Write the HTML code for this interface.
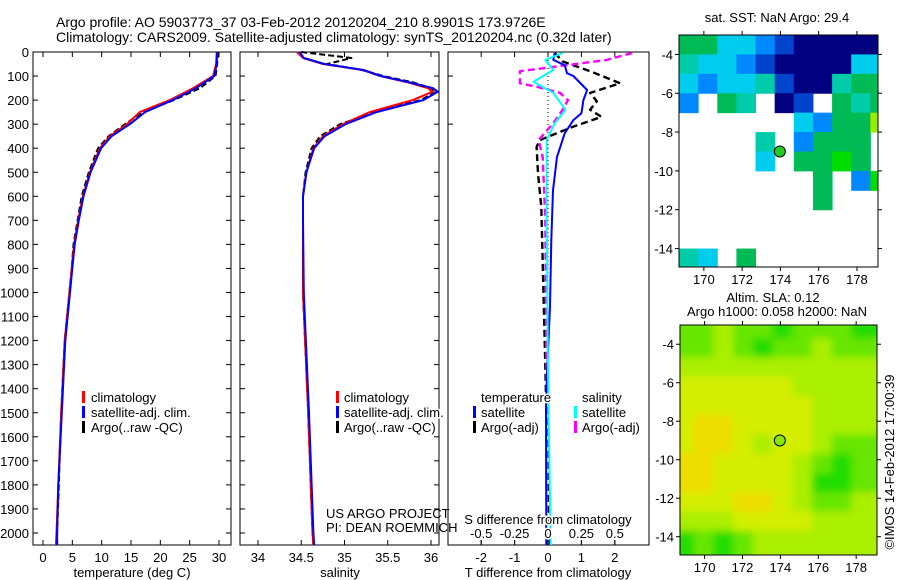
<!DOCTYPE html>
<html><head><meta charset="utf-8">
<style>
html,body{margin:0;padding:0;background:#fff;}
svg{display:block;font-family:"Liberation Sans",sans-serif;}
text{font-size:13px;fill:#000;}
</style></head>
<body>
<svg id="fig" width="900" height="580" viewBox="0 0 900 580" xmlns="http://www.w3.org/2000/svg">
<rect width="900" height="580" fill="#fff"/>
<text x="56" y="27" style="font-size:14px">Argo profile: AO 5903773_37 03-Feb-2012 20120204_210 8.9901S 173.9726E</text>
<text x="56" y="42" style="font-size:14px">Climatology: CARS2009. Satellite-adjusted climatology: synTS_20120204.nc (0.32d later)</text>
<g id="p1"></g>
<g id="p2"></g>
<g id="p3"></g>
<g id="m1"></g>
<g id="m2"></g>
<text x="326" y="518">US ARGO PROJECT</text>
<text x="326" y="532">PI: DEAN ROEMMICH</text>
<text x="777" y="22" text-anchor="middle">sat. SST: NaN Argo: 29.4</text>
<text x="773" y="302" text-anchor="middle">Altim. SLA: 0.12</text>
<text x="777" y="316" text-anchor="middle">Argo h1000: 0.058 h2000: NaN</text>
<text transform="translate(894,462) rotate(-90)" text-anchor="middle">©IMOS 14-Feb-2012 17:00:39</text>
</svg>
<script>
// ---------- data ----------
const depthTicks = [0,100,200,300,400,500,600,700,800,900,1000,1100,1200,1300,1400,1500,1600,1700,1800,1900,2000];
const tempTicks = [0,5,10,15,20,25,30];
const salTicks = [34,34.5,35,35.5,36];
const salTickLabels = ["34","34.5","35","35.5","36"];
const tdiffTicks = [-2,-1,0,1,2];
const sdiffTicks = [-0.5,-0.25,0,0.25,0.5];
const sdiffTickLabels = ["-0.5","-0.25","0","0.25","0.5"];

const profDepth = [0,50,100,150,200,250,300,350,400,500,600,700,800,900,1000,1200,1500,1800,2000,2050];
const tempClim = [29.6,29.5,29.0,25.6,21.6,16.5,14.3,11.4,9.7,8.0,6.8,6.0,5.3,4.9,4.5,3.7,3.1,2.6,2.3,2.2];
const tempSat  = [29.7,29.6,29.2,26.1,22.1,17.4,14.8,11.7,9.9,8.1,6.9,6.1,5.4,5.0,4.6,3.8,3.2,2.6,2.4,2.4];
const tempArgo = [29.8,29.7,29.4,26.8,22.3,17.0,14.0,11.2,9.4,7.8,6.6,5.9,5.2,4.9,4.5,3.7,3.1,2.7,2.4,2.4];

const salDepth = [0,25,50,75,100,125,150,165,200,250,300,350,400,500,600,700,1000,1500,2000,2050];
const salClim = [34.45,34.52,34.75,35.21,35.41,35.72,35.96,36.02,35.79,35.29,34.98,34.75,34.64,34.56,34.52,34.52,34.52,34.58,34.63,34.64];
const salSat  = [34.48,34.53,34.77,35.22,35.42,35.74,36.02,36.08,35.91,35.37,35.01,34.77,34.65,34.56,34.52,34.52,34.53,34.59,34.64,34.65];
const salArgo = [34.50,35.08,34.80,35.20,35.45,35.78,36.00,36.06,35.88,35.35,34.95,34.72,34.62,34.55,34.52,34.52,34.52,34.58,34.63,34.64];

const tdDepth = [4,33,55,88,100,158,200,255,283,338,436,575,783,1060,1338,1480,2050];
const tdiffSat = [0.2,0.16,0.5,0.57,0.76,1.17,1.06,1.0,0.76,0.5,0.27,0.15,0.1,0.06,-0.03,-0.06,-0.05];
const taDepth = [4,40,80,130,170,205,240,270,310,366,394,505,644,922,1200,1480,2050];
const tdiffArgo = [0.2,0.45,1.26,2.16,1.26,1.46,1.26,1.6,0.76,-0.24,-0.34,-0.3,-0.2,-0.15,-0.1,-0.05,0.06];
const sdDepth = [4,33,75,124,170,240,296,366,644,1338,2050];
const sdiffSat = [0.11,-0.02,0.04,-0.11,0.04,0.13,0.05,-0.01,-0.01,0,0.02];
const saDepth = [4,33,55,80,130,145,170,200,240,296,366,436,700,1400,2050];
const sdiffArgo = [0.63,0.44,0.14,-0.21,-0.21,-0.08,0.09,0.15,0.11,0.04,-0.07,-0.04,-0.02,-0.01,-0.01];

const mapLonTicks = [170,172,174,176,178];
const mapLatTicks = [-4,-6,-8,-10,-12,-14];
const argoLon = 173.97, argoLat = -9.0;
// SST cells: rows lat -3..-15 (1 deg), cols from lon 168.7 (1 deg); '.' missing
const sstRows = [
 "55332100000",
 "43321000033",
 "32334100455",
 "2.54.01.545",
 "......32557",
 "....4.2555.",
 "....3.5565.",
 ".......5.26",
 ".......5...",
 "...........",
 "...........",
 "43.5.......",
];
const sstColors = ["#000080","#0044cc","#0088ff","#00ccee","#00ccaa","#00bb55","#00dd00","#99ee00"];
// SLA cells
const slaRows = [
 [1,1,2,1,1,0,1,1,1,0],
 [1,1,2,1,0,1,1,2,1,1],
 [2,2,2,2,2,2,2,2,2,2],
 [3,3,3,3,3,3,2,2,2,2],
 [3,3,3,3,3,3,3,2,2,2],
 [3,4,4,3,3,3,3,2,2,2],
 [3,4,4,3,2,3,3,2,1,1],
 [4,4,3,3,3,3,2,1,0,1],
 [4,4,3,3,3,3,2,0,0,1],
 [3,3,3,4,4,3,2,1,1,2],
 [2,2,2,3,3,3,3,2,2,2],
 [0,1,0,1,2,2,2,2,2,2],
];
const slaColors = ["#22dd00","#66e600","#aaee00","#d4ee00","#eedd00"];

// ---------- helpers ----------
const NS="http://www.w3.org/2000/svg";
function mk(parent,tag,attrs,txt){const e=document.createElementNS(NS,tag);for(const k in attrs)e.setAttribute(k,attrs[k]);if(txt!==undefined)e.textContent=txt;parent.appendChild(e);return e;}
const yTop=52, pxPer100=24.05;
const yD = d => yTop + d*pxPer100/100;
const yBottom = 545;

function frame(g,x0,x1,y0,y1){
  const r=mk(g,'rect',{x:x0,y:y0,width:x1-x0,height:y1-y0,fill:'none',stroke:'#000','stroke-width':1});
  
  
}
function line(g,xs,ys,fx,fy,color,w,dash,name){
  let d='';
  for(let i=0;i<xs.length;i++){d+=(i?'L':'M')+fx(xs[i]).toFixed(1)+','+fy(ys[i]).toFixed(1);}
  const p=mk(g,'path',{d:d,fill:'none',stroke:color,'stroke-width':w,'stroke-dasharray':dash||'none','stroke-linejoin':'round'});
  
  
  return p;
}
function depthAxis(g,x0,x1,labels){
  depthTicks.forEach(d=>{
    const y=yD(d);
    mk(g,'line',{x1:x0,y1:y,x2:x0+5,y2:y,stroke:'#000'});
    mk(g,'line',{x1:x1-5,y1:y,x2:x1,y2:y,stroke:'#000'});
    if(labels){const t=mk(g,'text',{x:x0-4,y:y+5,'text-anchor':'end'},String(d));
      
      }
  });
}
function xTicks(g,vals,labs,fx,ytxt,name){
  vals.forEach((v,i)=>{
    const x=fx(v);
    mk(g,'line',{x1:x,y1:yTop,x2:x,y2:yTop+5,stroke:'#000'});
    mk(g,'line',{x1:x,y1:yBottom-5,x2:x,y2:yBottom,stroke:'#000'});
    if(labs){const t=mk(g,'text',{x:x,y:ytxt,'text-anchor':'middle'},labs[i]);
      
      }
  });
}
function legendEntry(g,mx,tx,y,color,label){
  mk(g,'rect',{x:mx-1,y:y-11,width:3,height:12,fill:color});
  const t=mk(g,'text',{x:tx,y:y,stroke:'#fff','stroke-width':3,'paint-order':'stroke'},label);
  
  
}

// ---------- panel 1: temperature ----------
(function(){
  const g=document.getElementById('p1');
  const x0=33,x1=231;
  const fx=t=>43+t*(219-43)/30;
  frame(g,x0,x1,yTop,yBottom);
  depthAxis(g,x0,x1,true);
  xTicks(g,tempTicks,tempTicks.map(String),fx,562,'temperature-tick-label');
  line(g,tempArgo,profDepth,fx,yD,'#000',2,'6,3','argo-temperature-line');
  line(g,tempClim,profDepth,fx,yD,'#ff0000',2,null,'climatology-temperature-line');
  line(g,tempSat,profDepth,fx,yD,'#0000ff',2,null,'satellite-temperature-line');
  const t=mk(g,'text',{x:132,y:577,'text-anchor':'middle'},'temperature (deg C)');
  
  
  legendEntry(g,83,91,402,'#ff0000','climatology');
  legendEntry(g,83,91,417,'#0000ff','satellite-adj. clim.');
  legendEntry(g,83,91,432,'#000','Argo(..raw -QC)');
})();

// ---------- panel 2: salinity ----------
(function(){
  const g=document.getElementById('p2');
  const x0=240,x1=439;
  const fx=s=>258+(s-34)*(431-258)/2;
  frame(g,x0,x1,yTop,yBottom);
  depthAxis(g,x0,x1,false);
  xTicks(g,salTicks,salTickLabels,fx,562,'salinity-tick-label');
  line(g,salArgo,salDepth,fx,yD,'#000',2,'6,3','argo-salinity-line');
  line(g,salClim,salDepth,fx,yD,'#ff0000',2,null,'climatology-salinity-line');
  line(g,salSat,salDepth,fx,yD,'#0000ff',2,null,'satellite-salinity-line');
  const t=mk(g,'text',{x:340,y:577,'text-anchor':'middle'},'salinity');
  
  
  legendEntry(g,337,344,402,'#ff0000','climatology');
  legendEntry(g,337,344,417,'#0000ff','satellite-adj. clim.');
  legendEntry(g,337,344,432,'#000','Argo(..raw -QC)');
})();

// ---------- panel 3: differences ----------
(function(){
  const g=document.getElementById('p3');
  const x0=448,x1=649;
  const fT=v=>548+v*33.4;
  const fS=v=>548+v*133.6;
  frame(g,x0,x1,yTop,yBottom);
  tdiffTicks.forEach(v=>{const x=fT(v);mk(g,'line',{x1:x,y1:yTop,x2:x,y2:yTop+5,stroke:'#000'});mk(g,'line',{x1:x,y1:yBottom-5,x2:x,y2:yBottom,stroke:'#000'});
    const t=mk(g,'text',{x:x,y:562,'text-anchor':'middle'},String(v));
    
    });
  [100,300].forEach(d=>{mk(g,'line',{x1:x0,y1:yD(d),x2:x0+5,y2:yD(d),stroke:'#000'});});
  mk(g,'line',{x1:fT(0),y1:yTop,x2:fT(0),y2:yD(1000),stroke:'#000','stroke-dasharray':'1,3'});
  line(g,tdiffArgo,taDepth,fT,yD,'#000',2.4,'7,4','argo-temperature-diff-line');
  line(g,sdiffArgo,saDepth,fS,yD,'#ff00ff',2.4,'7,4','argo-salinity-diff-line');
  line(g,tdiffSat,tdDepth,fT,yD,'#0000ff',2,null,'satellite-temperature-diff-line');
  line(g,sdiffSat,sdDepth,fS,yD,'#00ffff',2,null,'satellite-salinity-diff-line');
  const tt=mk(g,'text',{x:481,y:402,stroke:'#fff','stroke-width':3,'paint-order':'stroke'},'temperature');
  
  
  const ts=mk(g,'text',{x:582,y:402,stroke:'#fff','stroke-width':3,'paint-order':'stroke'},'salinity');
  
  
  legendEntry(g,474,481,417,'#0000ff','satellite');
  legendEntry(g,474,481,432,'#000','Argo(-adj)');
  legendEntry(g,575,582,417,'#00ffff','satellite');
  legendEntry(g,575,582,432,'#ff00ff','Argo(-adj)');
  const st=mk(g,'text',{x:548,y:524,'text-anchor':'middle',stroke:'#fff','stroke-width':3,'paint-order':'stroke'},'S difference from climatology');
  
  
  sdiffTicks.forEach((v,i)=>{const x=fS(v);mk(g,'line',{x1:x,y1:yBottom-5,x2:x,y2:yBottom,stroke:'#000'});
    const t=mk(g,'text',{x:x,y:538,'text-anchor':'middle',stroke:'#fff','stroke-width':3,'paint-order':'stroke'},sdiffTickLabels[i]);
    
    });
  const xt=mk(g,'text',{x:548,y:577,'text-anchor':'middle'},'T difference from climatology');
  
  
})();

// ---------- maps ----------
function drawMap(gid,x0,x1,y0,y1,fillFn,blur,clipId){
  const g=document.getElementById(gid);
  const lon0=168.7,lon1=179.1,lat0=-3.0,lat1=-14.95;
  const fx=lon=>x0+(lon-lon0)*(x1-x0)/(lon1-lon0);
  const fy=lat=>y0+(lat-lat0)*(y1-y0)/(lat1-lat0);
  const cp=mk(g,'clipPath',{id:clipId});mk(cp,'rect',{x:x0,y:y0,width:x1-x0,height:y1-y0});
  const cg=mk(g,'g',{'clip-path':'url(#'+clipId+')'});
  if(blur){const f=mk(g,'filter',{id:clipId+'b'});mk(f,'feGaussianBlur',{stdDeviation:4});}
  const inner=mk(cg,'g',blur?{filter:'url(#'+clipId+'b)'}:{});
  fillFn(inner,fx,fy);
  frame(g,x0,x1,y0,y1);
  mapLonTicks.forEach(l=>{const x=fx(l);mk(g,'line',{x1:x,y1:y1,x2:x,y2:y1+4,stroke:'#000'});mk(g,'line',{x1:x,y1:y0-4,x2:x,y2:y0,stroke:'#000'});
    const t=mk(g,'text',{x:x,y:y1+17,'text-anchor':'middle'},String(l));
    
    });
  mapLatTicks.forEach(l=>{const y=fy(l);mk(g,'line',{x1:x0-4,y1:y,x2:x0,y2:y,stroke:'#000'});mk(g,'line',{x1:x1,y1:y,x2:x1+4,y2:y,stroke:'#000'});
    const t=mk(g,'text',{x:x0-6,y:y+5,'text-anchor':'end'},String(l));
    
    });
  const c=mk(g,'circle',{cx:fx(argoLon),cy:fy(argoLat),r:5.5,fill:gid==='m1'?'#22cc22':'#88e800',stroke:'#000','stroke-width':1});
  
  
}
drawMap('m1',679,878,35,267,function(g,fx,fy){
  sstRows.forEach((row,r)=>{for(let c=0;c<row.length;c++){const ch=row[c];if(ch==='.')continue;
    const lon=168.7+c, lat=-3-r;
    const cell=mk(g,'rect',{x:fx(lon),y:fy(lat),width:fx(lon+1)-fx(lon)+0.5,height:fy(lat-1)-fy(lat)+0.5,fill:sstColors[+ch]});
    
    }});
},false,'clipm1');
drawMap('m2',680,877,325,555,function(g,fx,fy){
  slaRows.forEach((row,r)=>{row.forEach((v,c)=>{
    const lon=168.7+c*1.04, lat=-3-r;
    const cell=mk(g,'rect',{x:fx(lon)-6,y:fy(lat)-6,width:fx(lon+1.04)-fx(lon)+12,height:fy(lat-1)-fy(lat)+12,fill:slaColors[v]});
    
    });});
},true,'clipm2');
</script>
</body></html>
